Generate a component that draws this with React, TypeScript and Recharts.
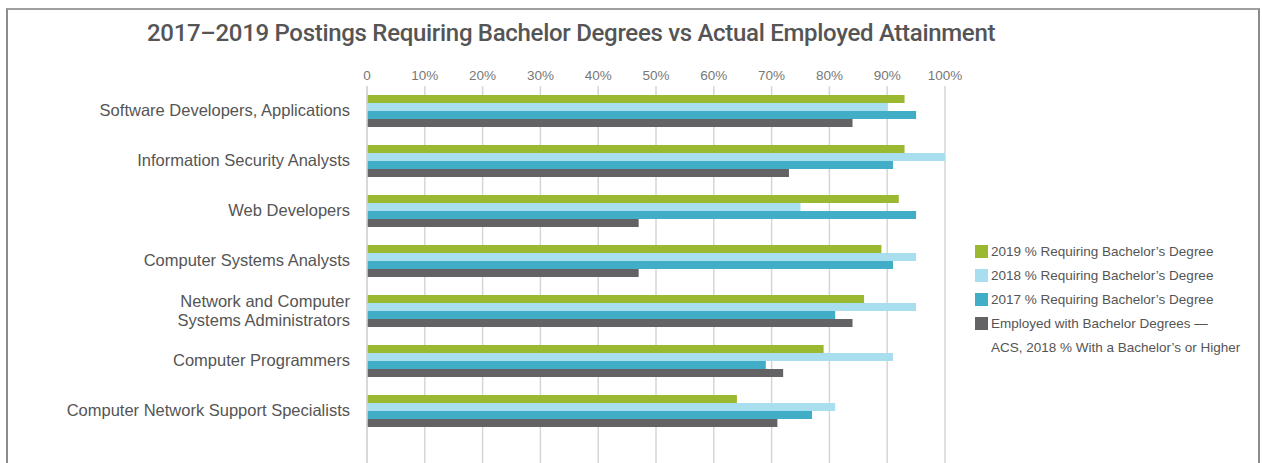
import React from 'react';
import { BarChart, Bar, XAxis, YAxis, CartesianGrid } from 'recharts';

const categories = [
    'Software Developers, Applications',
    'Information Security Analysts',
    'Web Developers',
    'Computer Systems Analysts',
    'Network and Computer\nSystems Administrators',
    'Computer Programmers',
    'Computer Network Support Specialists',
];

const req2019 = [93, 93, 92, 89, 86, 79, 64];
const req2018 = [90, 100, 75, 95, 95, 91, 81];
const req2017 = [95, 91, 95, 91, 81, 69, 77];
const employed = [84, 73, 47, 47, 84, 72, 71];

const xTicks = [0, 10, 20, 30, 40, 50, 60, 70, 80, 90, 100];

const seriesInfo = [
    { key: 'req2019', name: '2019 % Requiring Bachelor’s Degree', color: '#9bb930' },
    { key: 'req2018', name: '2018 % Requiring Bachelor’s Degree', color: '#a9deee' },
    { key: 'req2017', name: '2017 % Requiring Bachelor’s Degree', color: '#41adc7' },
    { key: 'employed', name: 'Employed with Bachelor Degrees —', color: '#636365' },
];

const data = categories.map((name, i) => ({
    name,
    req2019: req2019[i],
    req2018: req2018[i],
    req2017: req2017[i],
    employed: employed[i],
}));

const FONT = '"Liberation Sans", Arial, Helvetica, sans-serif';

// y-axis labels, some of them on two lines
const CategoryTick = (props: any) => {
    const { x, y, payload } = props;
    const lines = String(payload.value).split('\n');
    const lh = 19;
    const start = -((lines.length - 1) * lh) / 2;
    return (
        <text x={x} y={y} textAnchor="end" fill="#555" fontSize={16.5} fontFamily={FONT}>
            {lines.map((l, i) => (
                <tspan key={i} x={x} dy={i === 0 ? start + 5 : lh}>{l}</tspan>
            ))}
        </text>
    );
};

export default function App() {
    return (
        <div style={{ position: 'absolute', left: 0, top: 0, width: 1262, height: 463, overflow: 'hidden', background: '#fff' }}>
            {/* frame */}
            <div style={{
                position: 'absolute', left: 6, top: 8, width: 1250, height: 470,
                borderLeft: '2px solid #8c8c8c', borderRight: '2px solid #8c8c8c', borderTop: '2px solid #a0a0a0',
            }} />
            <div style={{
                position: 'absolute', left: 147, top: 19, fontFamily: 'Roboto, sans-serif', fontWeight: 500,
                fontSize: 24, color: '#555', letterSpacing: -0.3, whiteSpace: 'nowrap',
            }}>
                2017–2019 Postings Requiring Bachelor Degrees vs Actual Employed Attainment
            </div>
            <div style={{ position: 'absolute', left: 0, top: 0 }}>
                <BarChart
                    width={1262}
                    height={470}
                    data={data}
                    layout="vertical"
                    margin={{ top: 56, right: 317, bottom: 4, left: 0 }}
                    barSize={8}
                    barGap={0}
                >
                    <CartesianGrid horizontal={false} stroke="#d6d6d6" strokeWidth={1.5} />
                    <XAxis
                        type="number"
                        orientation="top"
                        domain={[0, 100]}
                        ticks={xTicks}
                        interval={0}
                        height={30}
                        axisLine={false}
                        tickLine={false}
                        tickSize={0}
                        tickMargin={6}
                        tickFormatter={(v: number) => (v === 0 ? '0' : `${v}%`)}
                        tick={{ fill: '#777', fontSize: 13.5, fontFamily: FONT }}
                    />
                    <YAxis
                        type="category"
                        dataKey="name"
                        width={367}
                        axisLine={{ stroke: '#d6d6d6', strokeWidth: 1.5 }}
                        tickLine={false}
                        tickSize={0}
                        tickMargin={17}
                        interval={0}
                        padding={{ top: 0, bottom: 30 }}
                        tick={<CategoryTick />}
                    />
                    {seriesInfo.map((s) => (
                        <Bar key={s.key} dataKey={s.key} name={s.name} fill={s.color} isAnimationActive={false} />
                    ))}
                </BarChart>
            </div>
            {/* legend */}
            <div style={{ position: 'absolute', left: 975, top: 239, fontFamily: FONT, fontSize: 13.5, color: '#555' }}>
                {seriesInfo.map((s) => (
                    <div key={s.key} style={{ display: 'flex', alignItems: 'center', height: 24 }}>
                        <span style={{ display: 'inline-block', width: 13, height: 13, background: s.color, marginRight: 3 }} />
                        <span>{s.name}</span>
                    </div>
                ))}
                <div style={{ height: 24, display: 'flex', alignItems: 'center', paddingLeft: 16 }}>
                    ACS, 2018 % With a Bachelor’s or Higher
                </div>
            </div>
        </div>
    );
}
